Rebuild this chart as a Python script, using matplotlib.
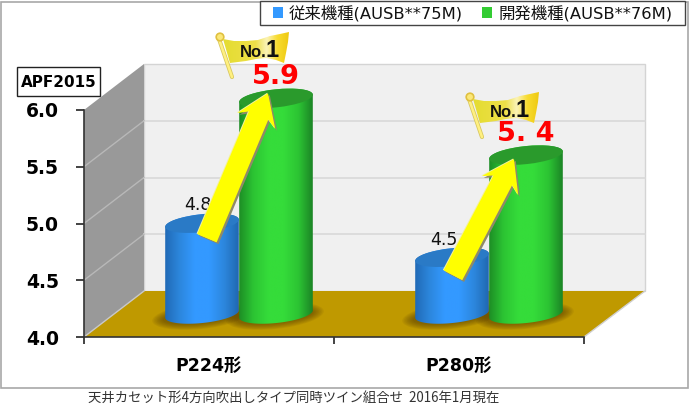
import numpy as np
import matplotlib
matplotlib.use('Agg')
import matplotlib.pyplot as plt
from matplotlib.colors import LinearSegmentedColormap
from matplotlib.patches import Ellipse, Patch, Polygon, Rectangle, Circle
from matplotlib.path import Path
from matplotlib.transforms import Affine2D

categories = ['P224形', 'P280形']
series_names = ['従来機種(AUSB**75M)', '開発機種(AUSB**76M)']
old_values = [4.8, 4.5]
new_values = [5.9, 5.4]
old_labels = ['4.8', '4.5']
new_labels = ['5.9', '5. 4']
y_ticks = [4.0, 4.5, 5.0, 5.5, 6.0]
y_title = 'APF2015'
footer = '天井カセット形4方向吹出しタイプ同時ツイン組合せ  2016年1月現在'

W, H = 690, 411
plt.rcParams['font.family'] = ['DejaVu Sans', 'Noto Sans CJK JP']

fig = plt.figure(figsize=(W / 100, H / 100), dpi=100)
# front plane of the fake 3D box
ax = fig.add_axes([84 / W, 1 - 337 / H, 500 / W, 227 / H])
ax.set_xlim(-0.5, 1.5)
ax.set_ylim(4, 6)
ax.patch.set_visible(False)

# image pixel coords (y down) -> display
px = Affine2D().scale(1, -1).translate(0, H)

DX, DY = 60, 46        # depth of the box
BAR_DX, BAR_DY = 30, 23  # bars stand half way back
BAR_W = 74
BAR_OFF = 0.148


def to_px(x, y):
    a, b = ax.transData.transform((x, y))
    return a, H - b


def poly(pts, **kw):
    kw.setdefault('clip_on', False)
    p = Polygon(pts, closed=True, transform=px, **kw)
    ax.add_patch(p)
    return p


def clipped_image(arr, extent, path, cmap, zorder):
    im = ax.imshow(arr, extent=extent, transform=px, cmap=cmap, vmin=0, vmax=1,
                   aspect='auto', interpolation='bilinear', zorder=zorder)
    im.set_clip_box(fig.bbox)
    im.set_clip_path(path, px)
    return im


def ellipse_pts(cx, cy, w, h, ang, a0=0, a1=360, n=60):
    t = np.radians(np.linspace(a0, a1, n))
    x, y = w / 2 * np.cos(t), h / 2 * np.sin(t)
    r = np.radians(ang)
    return np.c_[cx + x * np.cos(r) - y * np.sin(r), cy + x * np.sin(r) + y * np.cos(r)]


def cylinder(x, val, colors, top_color, z):
    cx, base = to_px(x, 4)
    cx, base = cx + BAR_DX, base - BAR_DY
    _, ytop = to_px(x, val)
    ytop -= BAR_DY
    tilt = -6
    # soft shadow on the floor
    for g in range(8):
        e = Ellipse((cx - 1, base + 2), BAR_W + 24 - g * 3, 26 - g * 1.6, angle=tilt,
                    transform=px, fc='#4a3000', ec='none', alpha=0.08, zorder=3, clip_on=False)
        ax.add_patch(e)
    low = ellipse_pts(cx, base, BAR_W, 18, tilt, 0, 180)
    up = ellipse_pts(cx, ytop, BAR_W, 18, tilt, 180, 360)
    outline = np.r_[low, up, low[:1]]
    path = Path(outline, closed=False)
    cmap = LinearSegmentedColormap.from_list('c', colors)
    arr = np.linspace(0, 1, 128)[None, :]
    clipped_image(arr, (cx - BAR_W / 2 - 1, cx + BAR_W / 2 + 1, base + 12, ytop - 12), path, cmap, z)
    ax.add_patch(Ellipse((cx, ytop), BAR_W, 18, angle=tilt, transform=px, fc=top_color, ec='none',
                         zorder=z + 0.1, clip_on=False))
    return cx, ytop


def arrow(tail, tip, z):
    tail, tip = np.array(tail, float), np.array(tip, float)
    d = (tip - tail) / np.hypot(*(tip - tail))
    n = np.array([-d[1], d[0]])
    neck = tip - d * 24
    barb = tip - d * 30
    pts = [tail + n * 10.5, neck + n * 10.5, barb + n * 20.5, tip,
           barb - n * 20.5, neck - n * 10.5, tail - n * 10.5]
    pts = np.array(pts)
    poly(pts + [1.8, 1.8], fc='#8f8a68', ec='none', zorder=z)
    poly(pts + [-0.8, -0.6], fc='#f3f0a0', ec='none', zorder=z + 0.1)
    poly(pts, fc='#ffff00', ec='none', zorder=z + 0.2)


def flag(ox, oy, z):
    # pole
    ax.plot([219 + ox, 232 + ox], [39 + oy, 77 + oy], color='#d8c860', lw=3, transform=px,
            clip_on=False, zorder=z, solid_capstyle='round')
    ax.plot([219 + ox, 232 + ox], [39 + oy, 77 + oy], color='#fff080', lw=1.8, transform=px,
            clip_on=False, zorder=z + 0.1, solid_capstyle='round')
    ax.add_patch(Circle((220 + ox, 37 + oy), 3.8, transform=px, fc='#fbe878', ec='#e0c040', lw=1.2,
                        clip_on=False, zorder=z + 0.2))
    verts = [(223, 39), (234, 41), (246, 41), (258, 40), (270, 36), (280, 34), (289, 32),
             (288, 42), (286, 53), (284, 63), (276, 60), (266, 58), (256, 59), (246, 61), (238, 62), (230, 63),
             (223, 39)]
    verts = np.array(verts, float) + [ox, oy]
    path = Path(verts, closed=False)
    cmap = LinearSegmentedColormap.from_list('f', [(0, '#e4dc30'), (0.5, '#eee04a'), (0.66, '#fbf3b8'),
                                                   (0.82, '#f8dc30'), (1, '#eec810')])
    clipped_image(np.linspace(0, 1, 64)[None, :], (222 + ox, 290 + ox, 64 + oy, 31 + oy), path, cmap, z + 0.3)
    ax.text(253.5 + ox, 52 + oy, 'No.', transform=px, fontsize=12, fontweight='bold', color='#111111',
            ha='center', va='center', zorder=z + 0.5, clip_on=False, family='Liberation Sans')
    ax.text(272.5 + ox, 50 + oy, '1', transform=px, fontsize=17, fontweight='bold', color='#111111',
            ha='center', va='center', zorder=z + 0.5, clip_on=False, family='Liberation Sans')


# back wall, side wall, floor
poly([(84 + DX, 337 - DY), (585 + DX, 337 - DY), (585 + DX, 110 - DY), (84 + DX, 110 - DY)],
     fc='#f0f0f0', ec='#d4d4d4', lw=1, zorder=0)
poly([(84, 337), (84 + DX, 337 - DY), (84 + DX, 110 - DY), (84, 110)], fc='#999999', ec='none', zorder=0.1)
poly([(84, 337), (84 + DX, 337 - DY), (585 + DX, 337 - DY), (584, 337)], fc='#bf9900', ec='none', zorder=0.2)

# grid on both walls, taken from the y scale
for v in y_ticks[1:-1]:
    _, yy = to_px(0, v)
    ax.plot([84 + DX, 585 + DX], [yy - DY, yy - DY], color='#d9d9d9', lw=1.2, transform=px,
            clip_on=False, zorder=0.3)
    ax.plot([84, 84 + DX], [yy, yy - DY], color='#b8b8b8', lw=1, transform=px, clip_on=False, zorder=0.35)
_, yy = to_px(0, 4)
ax.plot([84, 84 + DX], [yy, yy - DY], color='#c8c8c8', lw=1, transform=px, clip_on=False, zorder=0.35)
ax.plot([584, 585 + DX], [yy, yy - DY], color='#d0d0d0', lw=1, transform=px, clip_on=False, zorder=0.35)

blue = ['#2068b4', '#2c86dc', '#3399ff', '#3399ff', '#2c86dc', '#1f66ae']
green = ['#1c8a24', '#2cc433', '#35dc3a', '#35dc3a', '#2cc433', '#1a8024']

x_pos = np.arange(len(categories))
tops = []
for i, x in enumerate(x_pos):
    b = cylinder(x - BAR_OFF, old_values[i], blue, '#2a7ac6', 4 + i)
    g = cylinder(x + BAR_OFF, new_values[i], green, '#2a9a2c', 4.5 + i)
    tops.append((b, g))

# arrows run from the old bar up to the new one
tail_off = [(5, 15), (1, 18)]
tip_off = [(-8, -5), (-12, 4)]
flag_off = [(0, 0), (250, 60)]
label_off = [(-4, -18), (-8, -17)]
for i, (b, g) in enumerate(tops):
    ax.text(b[0] + label_off[i][0], b[1] + label_off[i][1], old_labels[i], transform=px, fontsize=12.5,
            color='#111111', ha='center', va='center', zorder=6, clip_on=False)
    arrow((b[0] + tail_off[i][0], b[1] + tail_off[i][1]), (g[0] + tip_off[i][0], g[1] + tip_off[i][1]), 7)
    flag(flag_off[i][0], flag_off[i][1], 8)
    ax.text(g[0], g[1] - 21, new_labels[i], transform=px, fontsize=19.5, fontweight='bold',
            color='#ff0000', ha='center', va='center', zorder=9, clip_on=False)

# axes
ax.set_yticks(y_ticks)
ax.set_yticklabels(['%.1f' % v for v in y_ticks], fontsize=13.5, fontweight='bold', color='black')
ax.set_xticks(x_pos)
ax.set_xticklabels(categories, fontsize=12.5, fontweight='bold', color='black')
ax.set_xticks([-0.5, 0.5, 1.5], minor=True)
ax.tick_params(axis='x', which='major', length=0, pad=14)
ax.tick_params(axis='x', which='minor', length=5, width=1.2, color='#222222')
ax.tick_params(axis='y', length=6, width=1.2, color='#222222', pad=12)
for s in ['top', 'right']:
    ax.spines[s].set_visible(False)
for s in ['left', 'bottom']:
    ax.spines[s].set_color('#333333')
    ax.spines[s].set_linewidth(1.2)
    ax.spines[s].set_zorder(2)

# y title box
poly([(17, 67), (100, 67), (100, 96), (17, 96)], fc='white', ec='#222222', lw=1, zorder=9.5)
ax.text(58.5, 82, y_title, transform=px, fontsize=11, fontweight='bold', color='black', ha='center', va='center',
        clip_on=False, zorder=10)

# chart frame and footer
fig.patches.append(Rectangle((1, H - 387.5), 687, 386, transform=None, fc='none', ec='#a8a8a8', lw=1.2))
fig.text(88 / W, 1 - 398 / H, footer, fontsize=9.6, color='#333333', ha='left', va='center',
         family=['Noto Sans CJK JP', 'DejaVu Sans'])

# legend box
fig.patches.append(Rectangle((260, H - 25), 425, 24, transform=None, fc='white', ec='#444444', lw=1))
handles = [Patch(fc='#3399ff', ec='none'), Patch(fc='#33cc33', ec='none')]
leg = fig.legend(handles, series_names, ncol=2, loc='center', bbox_to_anchor=(472.5 / W, 1 - 13 / H),
                 fontsize=11.8, frameon=False, handlelength=0.62, handleheight=0.62, handletextpad=0.35,
                 columnspacing=1.2, borderpad=0, borderaxespad=0, labelcolor='#111111')

ax.set_xlim(-0.5, 1.5)
ax.set_ylim(4, 6)
fig.savefig('out.png', dpi=100)
plt.close()
